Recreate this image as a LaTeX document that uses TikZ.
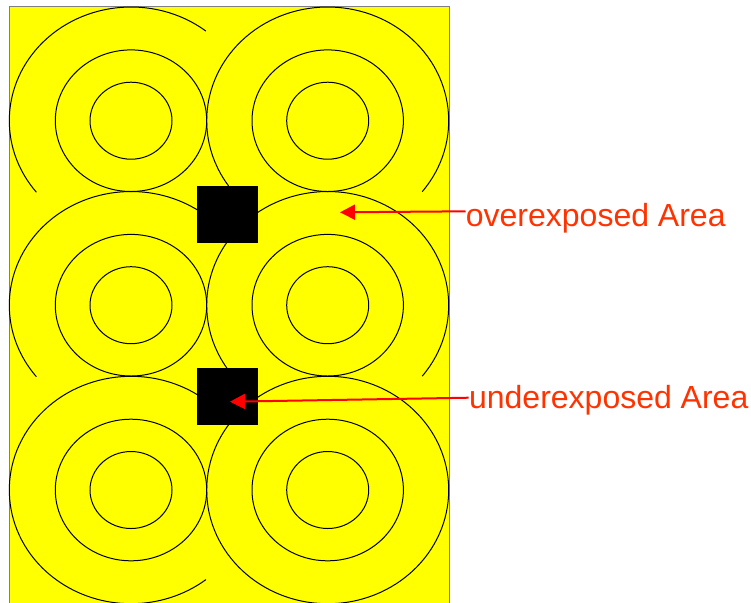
\documentclass[tikz,border=0pt]{standalone}
\usepackage{fontspec}
\setmainfont{Liberation Sans}
\usetikzlibrary{arrows.meta}
\definecolor{labelred}{HTML}{FF3300}
\definecolor{arrowred}{HTML}{FF0000}
\definecolor{framegray}{HTML}{808080}
\definecolor{plateyellow}{HTML}{FFFF00}
\begin{document}
\begin{tikzpicture}[x=0.5pt, y=0.5pt,
  ring/.style={black, line width=0.5pt},
  spot/.style={fill=black},
  pointer/.style={arrowred, line width=1pt, -{Triangle[length=7.5pt, width=7.5pt]}},
  tag/.style={labelred, inner sep=0pt, anchor=base west, font=\fontsize{16pt}{19pt}\selectfont}]
\useasboundingbox (0,0) rectangle (751,-602);
\clip (0,0) rectangle (751,-602);
%%%%%%%%%%%%%%%%%%%
\draw[framegray, fill=plateyellow, line width=0.5pt] (9.5,-6.7) rectangle (449.3,-620);
\foreach \cx in {131,327.7}
  \foreach \cy in {-120.7,-305.2,-490}
  {
    \draw[ring] (\cx,\cy) ellipse [x radius=41, y radius=38.5];
    \draw[ring] (\cx,\cy) ellipse [x radius=75.7, y radius=70.8];
  }
%%%%%%%%%%%%%%%%%%%
\draw[ring] (131,-120.7) ++(52:121.7 and 113.7) arc [start angle=52, end angle=219, x radius=121.7, y radius=113.7];
\draw[ring] (131,-305.2) ++(52:121.7 and 113.7) arc [start angle=52, end angle=219, x radius=121.7, y radius=113.7];
\draw[ring] (131,-490) ++(52:121.7 and 113.7) arc [start angle=52, end angle=308, x radius=121.7, y radius=113.7];
\draw[ring] (327.7,-120.7) ++(-38.6:121 and 113.7) arc [start angle=-38.6, end angle=215, x radius=121, y radius=113.7];
\draw[ring] (327.7,-305.2) ++(-38.6:121 and 113.7) arc [start angle=-38.6, end angle=215, x radius=121, y radius=113.7];
\draw[ring] (327.7,-490) ellipse [x radius=121, y radius=113.7];
%%%%%%%%%%%%%%%%%%%
\fill[spot] (197,-186) rectangle (258,-242.7);
\fill[spot] (197,-368) rectangle (258,-425);
%%%%%%%%%%%%%%%%%%%
\node[tag] (over) at (465.5,-226) {overexposed Area};
\node[tag] (under) at (468.7,-408.3) {underexposed Area};
\coordinate (overtip) at (340,-212.3);
\coordinate (undertip) at (230,-401.7);
\draw[pointer] ([yshift=7.35pt]over.base west) -- (overtip);
\draw[pointer] ([yshift=5.3pt]under.base west) -- (undertip);
\end{tikzpicture}
\end{document}
